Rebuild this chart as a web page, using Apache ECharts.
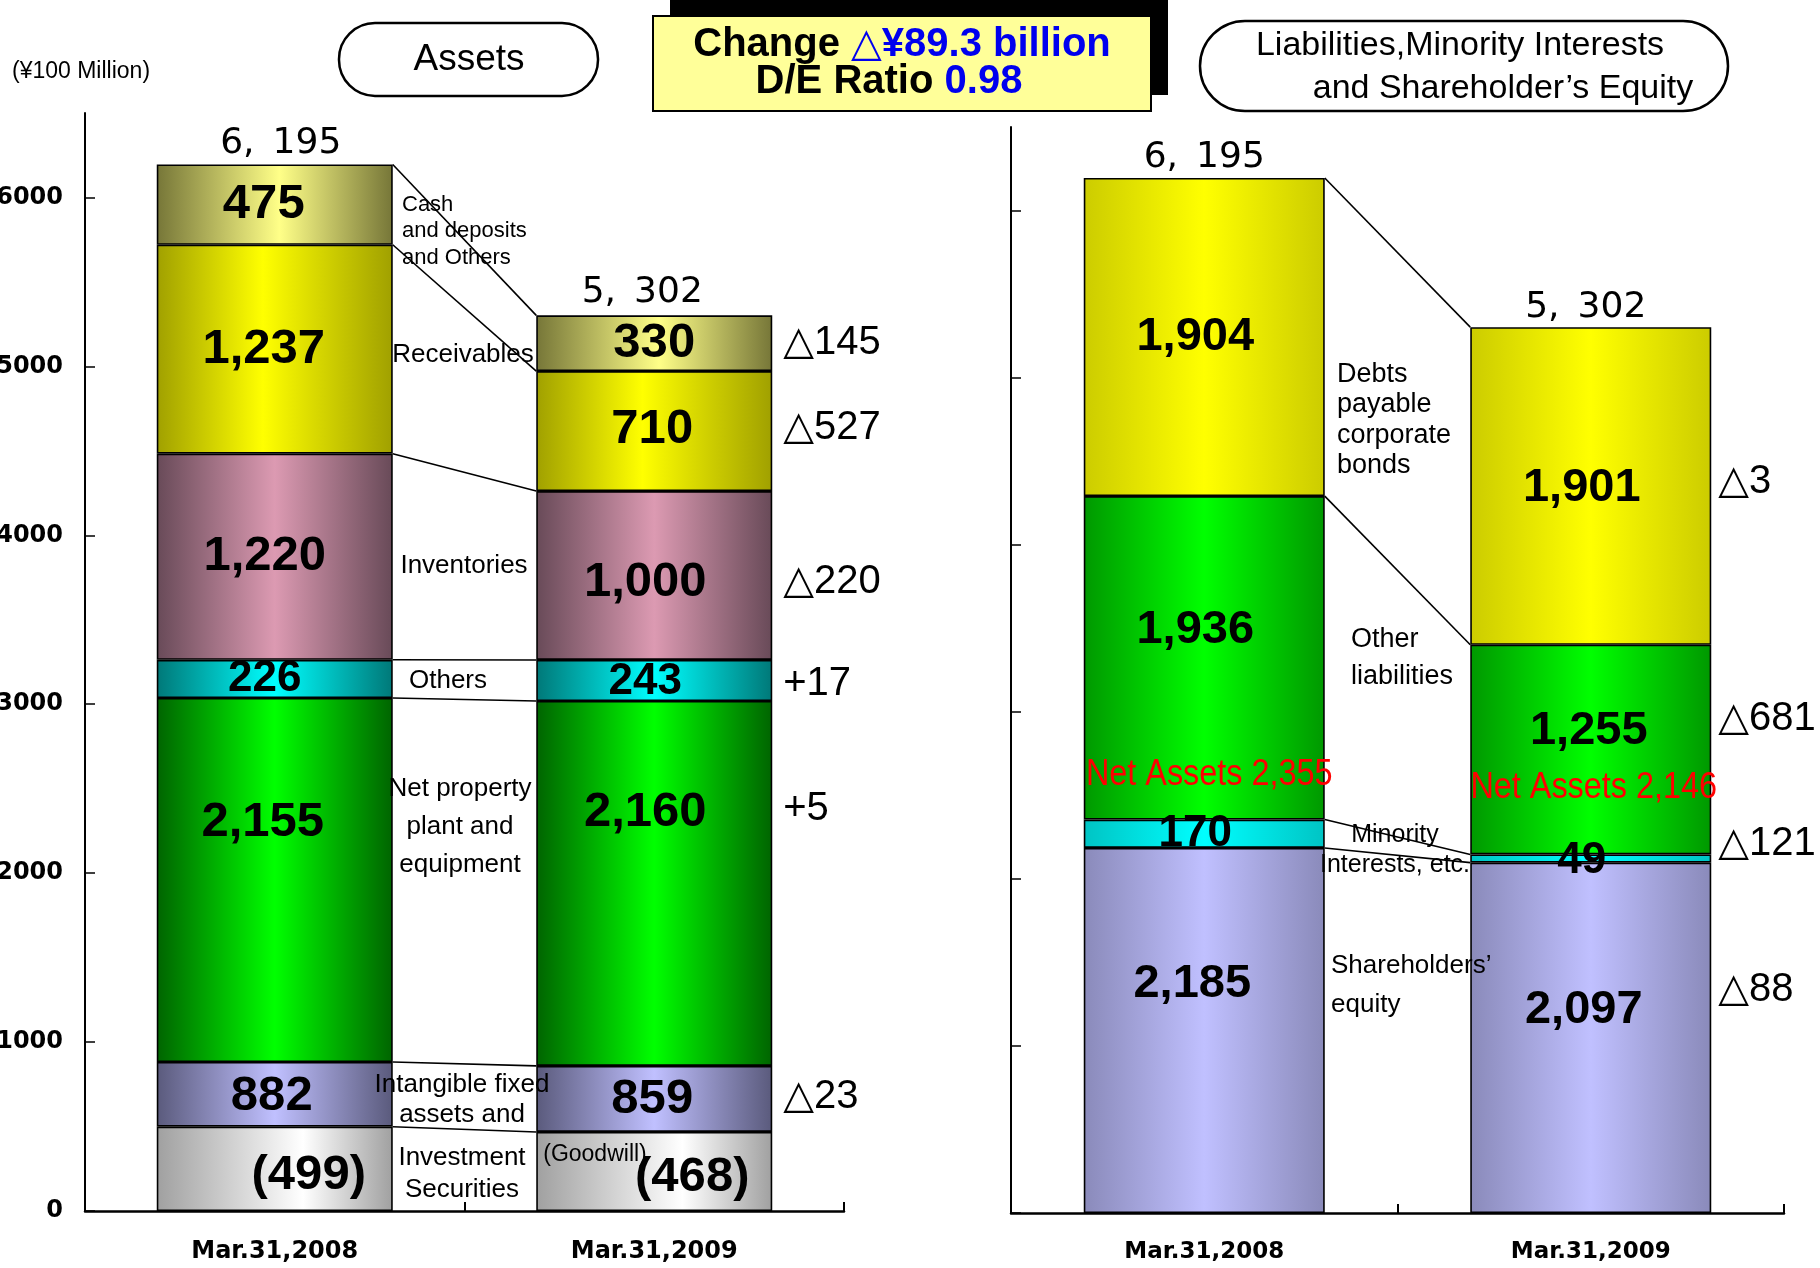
<!DOCTYPE html>
<html><head><meta charset="utf-8">
<script src="https://cdn.jsdelivr.net/npm/echarts@6/dist/echarts.min.js"></script>
<style>html,body{margin:0;padding:0;background:#fff}#c{width:1820px;height:1268px}</style>
</head><body><div id="c"></div>
<script>
// ---------------- data (unit: ¥100 million) ----------------
const categories = ['Mar.31,2008', 'Mar.31,2009'];
const yTickValues = [0, 1000, 2000, 3000, 4000, 5000, 6000];

// Assets (bottom -> top)
const goodwill          = [499, 468];
const intangibleInvest  = [882, 859];   // includes goodwill
const netPPE            = [2155, 2160];
const otherAssets       = [226, 243];
const inventories       = [1220, 1000];
const receivables       = [1237, 710];
const cashOthers        = [475, 330];
const totalAssets       = [6195, 5302];
const assetChange       = ['△23', '+5', '+17', '△220', '△527', '△145']; // intangible .. cash

// Liabilities, minority interests and shareholders' equity (bottom -> top)
const shareholdersEquity = [2185, 2097];
const minorityEtc        = [170, 49];
const otherLiabilities   = [1936, 1255];
const debtsBonds         = [1904, 1901];
const totalLiabEquity    = [6195, 5302];
const netAssets          = [2355, 2146];
const liabChange         = ['△88', '△121', '△681', '△3'];

// ---------------- layout (pixels / styles) ----------------
const BW_L = 236, BW_R = 241;
const assetLabelNudge = [
  [[34, 7], [-3, 2], [-12, -58], [-10, 0], [-10, 0], [-11, 0], [-11, 0]],
  [[38, 6], [-2, 1], [-9, -71], [-9, 1], [-9, 7], [-2, -2], [0, 0]]
];
const assetChangeDy = [-2, -74, 3, 6, -3, 0];
const liabLabelNudge = [
  [[-12, -46], [-9, 0], [-9, -28], [-9, 0]],
  [[-7, -28], [-9, 2], [-2, -19], [-9, 2]]
];
const liabChangeDy = [-48, -15, -31, -4];
const totalNudgeL = [[6, -21], [-12, -23]];
const totalNudgeR = [[0, -20], [-5, -20]];
const netNudge = [[5, -44], [3, -66]];

const FONT = "'Liberation Sans', 'DejaVu Sans', sans-serif";
const WIDE = "'DejaVu Sans', sans-serif";

function fmt(v) { return v.toLocaleString('en-US'); }
function fmtTotal(v) { const s = fmt(v).split(','); return s[0] + ',\u2002' + s[1]; }
function grad(edge, mid, pos) {
  return new echarts.graphic.LinearGradient(0, 0, 1, 0, [
    { offset: 0, color: edge }, { offset: pos, color: mid }, { offset: 1, color: edge }
  ]);
}

const assetSegs = [
  { name: 'Goodwill', vals: goodwill, labels: goodwill.map(v => '(' + v + ')'), color: grad('#a0a0a0', '#ffffff', 0.62) },
  { name: 'Intangible fixed assets and Investment Securities', vals: intangibleInvest.map((v, i) => v - goodwill[i]), labels: intangibleInvest.map(fmt), color: grad('#5a5a7c', '#c0c0ff', 0.5) },
  { name: 'Net property, plant and equipment', vals: netPPE, labels: netPPE.map(fmt), color: grad('#006400', '#00ff00', 0.5) },
  { name: 'Others', vals: otherAssets, labels: otherAssets.map(fmt), color: grad('#007878', '#00ffff', 0.5), fs: 44 },
  { name: 'Inventories', vals: inventories, labels: inventories.map(fmt), color: grad('#684a58', '#dc9ab2', 0.5) },
  { name: 'Receivables', vals: receivables, labels: receivables.map(fmt), color: grad('#a0a000', '#ffff00', 0.45) },
  { name: 'Cash and deposits and Others', vals: cashOthers, labels: cashOthers.map(fmt), color: grad('#767638', '#ffff88', 0.52) }
];
const liabSegs = [
  { name: "Shareholders' equity", vals: shareholdersEquity, color: grad('#8a8aba', '#c0c0ff', 0.5) },
  { name: 'Minority Interests, etc.', vals: minorityEtc, color: grad('#00c4c4', '#00ffff', 0.5), fs: 44 },
  { name: 'Other liabilities', vals: otherLiabilities, color: grad('#009800', '#00ff00', 0.5) },
  { name: 'Debts payable corporate bonds', vals: debtsBonds, color: grad('#cccc00', '#ffff00', 0.5) }
];

function cumulative(segs, i) {
  const out = []; let s = 0;
  segs.forEach(seg => { s += seg.vals[i]; out.push(s); });
  return out;
}
const cumL = [cumulative(assetSegs, 0), cumulative(assetSegs, 1)];
const cumR = [cumulative(liabSegs, 0), cumulative(liabSegs, 1)];

function barSeries(segs, stack, axis, bw, nudges, fsDefault) {
  return segs.map((s, k) => ({
    type: 'bar', name: s.name, stack: stack, xAxisIndex: axis, yAxisIndex: axis, barWidth: bw,
    silent: true,
    itemStyle: { color: s.color, borderColor: '#000', borderWidth: 1.6 },
    label: {
      show: true, position: 'inside', color: '#000', fontFamily: FONT, fontWeight: 'bold',
      fontSize: s.fs || fsDefault,
      formatter: p => (s.labels ? s.labels[p.dataIndex] : fmt(s.vals[p.dataIndex]))
    },
    data: s.vals.map((v, i) => ({ value: v, label: { offset: nudges[i][k] } }))
  }));
}

function connectorSeries(cum, axis, bw) {
  return {
    type: 'custom', xAxisIndex: axis, yAxisIndex: axis, silent: true, z: 4,
    encode: { x: 0, y: [1, 2] },
    data: cum[0].map((v, k) => [0, v, cum[1][k]]),
    renderItem: (params, api) => {
      const a = api.coord([0, api.value(1)]);
      const b = api.coord([1, api.value(2)]);
      return { type: 'line', shape: { x1: a[0] + bw / 2, y1: a[1], x2: b[0] - bw / 2, y2: b[1] },
        style: { stroke: '#000', lineWidth: 1.6 } };
    }
  };
}

function textSeries(axis, data, makeText) {
  return {
    type: 'custom', xAxisIndex: axis, yAxisIndex: axis, silent: true, z: 6,
    encode: { x: 0, y: 1 },
    data: data,
    renderItem: (params, api) => {
      const p = api.coord([api.value(0), api.value(1)]);
      const t = makeText(params.dataIndex, p);
      return { type: 'text', x: t.x, y: t.y, scaleX: t.scaleX || 1,
        style: Object.assign({ fill: '#000', align: t.align || 'center', verticalAlign: 'middle',
          textAlign: t.align || 'center', textVerticalAlign: 'middle', fontFamily: FONT }, t.style) };
    }
  };
}

// mid values of the 2009 segments (for change labels)
const assetMid2009 = assetSegs.map((s, k) => cumL[1][k] - s.vals[1] / 2).slice(1);
const liabMid2009 = liabSegs.map((s, k) => cumR[1][k] - s.vals[1] / 2);

const series = []
  .concat(barSeries(assetSegs, 'assets', 0, BW_L, assetLabelNudge, 49))
  .concat(barSeries(liabSegs, 'liab', 1, BW_R, liabLabelNudge, 47))
  .concat([
    connectorSeries(cumL, 0, BW_L),
    connectorSeries(cumR, 1, BW_R),
    textSeries(0, totalAssets.map((v, i) => [i, v]), (i, p) => ({
      x: p[0] + totalNudgeL[i][0], y: p[1] + totalNudgeL[i][1],
      style: { text: fmtTotal(totalAssets[i]), fontSize: 36, fontFamily: WIDE } })),
    textSeries(1, totalLiabEquity.map((v, i) => [i, v]), (i, p) => ({
      x: p[0] + totalNudgeR[i][0], y: p[1] + totalNudgeR[i][1],
      style: { text: fmtTotal(totalLiabEquity[i]), fontSize: 36, fontFamily: WIDE } })),
    textSeries(0, assetMid2009.map(v => [1, v]), (i, p) => ({
      x: p[0] + BW_L / 2 + 11, y: p[1] + assetChangeDy[i], align: 'left',
      style: { text: assetChange[i], fontSize: 40 } })),
    textSeries(1, liabMid2009.map(v => [1, v]), (i, p) => ({
      x: p[0] + BW_R / 2 + 7, y: p[1] + liabChangeDy[i], align: 'left',
      style: { text: liabChange[i], fontSize: 40 } })),
    textSeries(1, netAssets.map((v, i) => [i, v]), (i, p) => ({
      x: p[0] + netNudge[i][0], y: p[1] + netNudge[i][1], scaleX: 0.9,
      style: { text: 'Net Assets ' + fmt(netAssets[i]), fontSize: 36, fill: '#ff0000' } }))
  ]);

function xAxisCfg(idx, fs, margin) {
  return {
    type: 'category', gridIndex: idx, data: categories,
    axisLine: { lineStyle: { color: '#000', width: 2.5 } },
    axisTick: { show: true, inside: true, length: 9, lineStyle: { color: '#000', width: 2 } },
    axisLabel: { color: '#000', fontFamily: WIDE, fontWeight: 'bold', fontSize: fs, margin: margin },
    splitLine: { show: false }
  };
}
function yAxisCfg(idx, showLabel) {
  return {
    type: 'value', gridIndex: idx, min: 0, max: 6500, interval: 1000,
    axisLine: { show: true, lineStyle: { color: '#000', width: 2 } },
    axisTick: { show: true, inside: true, length: 10, customValues: yTickValues, lineStyle: { color: '#000', width: 1.5 } },
    axisLabel: { show: showLabel, customValues: yTickValues, color: '#000', fontFamily: WIDE,
      fontWeight: 'bold', fontSize: 24, margin: 22,
      formatter: v => (yTickValues.indexOf(v) >= 0 ? String(v) : '') },
    splitLine: { show: false }
  };
}

function txt(x, y, text, fs, align, lh) {
  return { type: 'text', x: x, y: y, silent: true, z: 10,
    style: { text: text, fontFamily: FONT, fontSize: fs, fill: '#000', align: align, textAlign: align,
      verticalAlign: 'middle', textVerticalAlign: 'middle', lineHeight: lh || fs } };
}

const graphic = [
  txt(12, 72, '(¥100 Million)', 23, 'left'),
  { type: 'rect', shape: { x: 339, y: 23, width: 259, height: 73, r: 36 }, style: { fill: '#fff', stroke: '#000', lineWidth: 2.5 }, silent: true },
  txt(469, 60, 'Assets', 37, 'center'),
  { type: 'rect', shape: { x: 670, y: -2, width: 498, height: 97 }, style: { fill: '#000' }, silent: true },
  { type: 'rect', shape: { x: 653, y: 16, width: 498, height: 95 }, style: { fill: '#ffff99', stroke: '#000', lineWidth: 2 }, silent: true },
  { type: 'text', x: 902, y: 45, silent: true, z: 10, style: {
      text: '{a|Change }{b|△¥89.3 billion}', align: 'center', textAlign: 'center', verticalAlign: 'middle', textVerticalAlign: 'middle',
      fontFamily: FONT, fontWeight: 'bold', fontSize: 40,
      rich: { a: { fill: '#000', color: '#000', fontFamily: FONT, fontWeight: 'bold', fontSize: 40 },
              b: { fill: '#0000ee', color: '#0000ee', fontFamily: FONT, fontWeight: 'bold', fontSize: 40 } } } },
  { type: 'text', x: 889, y: 82, silent: true, z: 10, style: {
      text: '{a|D/E Ratio }{b|0.98}', align: 'center', textAlign: 'center', verticalAlign: 'middle', textVerticalAlign: 'middle',
      fontFamily: FONT, fontWeight: 'bold', fontSize: 40,
      rich: { a: { fill: '#000', color: '#000', fontFamily: FONT, fontWeight: 'bold', fontSize: 40 },
              b: { fill: '#0000ee', color: '#0000ee', fontFamily: FONT, fontWeight: 'bold', fontSize: 40 } } } },
  { type: 'rect', shape: { x: 1200, y: 21, width: 528, height: 90, r: 45 }, style: { fill: '#fff', stroke: '#000', lineWidth: 2.5 }, silent: true },
  txt(1460, 46, 'Liabilities,Minority Interests', 34, 'center'),
  txt(1503, 89, 'and Shareholder\u2019s Equity', 34, 'center'),
  // left chart captions
  txt(402, 231, 'Cash\nand deposits\nand Others', 22, 'left', 26.5),
  txt(463, 355, 'Receivables', 26, 'center'),
  txt(464, 566, 'Inventories', 26, 'center'),
  txt(448, 681, 'Others', 26, 'center'),
  txt(460, 827, 'Net property\nplant and\nequipment', 26, 'center', 38),
  txt(462, 1100, 'Intangible fixed\nassets and', 26, 'center', 30),
  txt(462, 1174, 'Investment\nSecurities', 26, 'center', 32),
  txt(595, 1155, '(Goodwill)', 23, 'center'),
  // right chart captions
  txt(1337, 420, 'Debts\npayable\ncorporate\nbonds', 27, 'left', 30.5),
  txt(1351, 658, 'Other\nliabilities', 27, 'left', 37),
  txt(1395, 850, 'Minority\nInterests, etc.', 25, 'center', 30),
  txt(1331, 985, 'Shareholders\u2019\nequity', 26, 'left', 39)
];

const chart = echarts.init(document.getElementById('c'), null, { renderer: 'canvas' });
chart.setOption({
  animation: false,
  backgroundColor: '#fff',
  grid: [
    { left: 85, top: 113, width: 759, height: 1098, outerBoundsMode: 'none', containLabel: false },
    { left: 1011, top: 127, width: 773, height: 1086, outerBoundsMode: 'none', containLabel: false }
  ],
  xAxis: [xAxisCfg(0, 24, 29), xAxisCfg(1, 23, 28)],
  yAxis: [yAxisCfg(0, true), yAxisCfg(1, false)],
  series: series,
  graphic: graphic
});
</script>
</body></html>
